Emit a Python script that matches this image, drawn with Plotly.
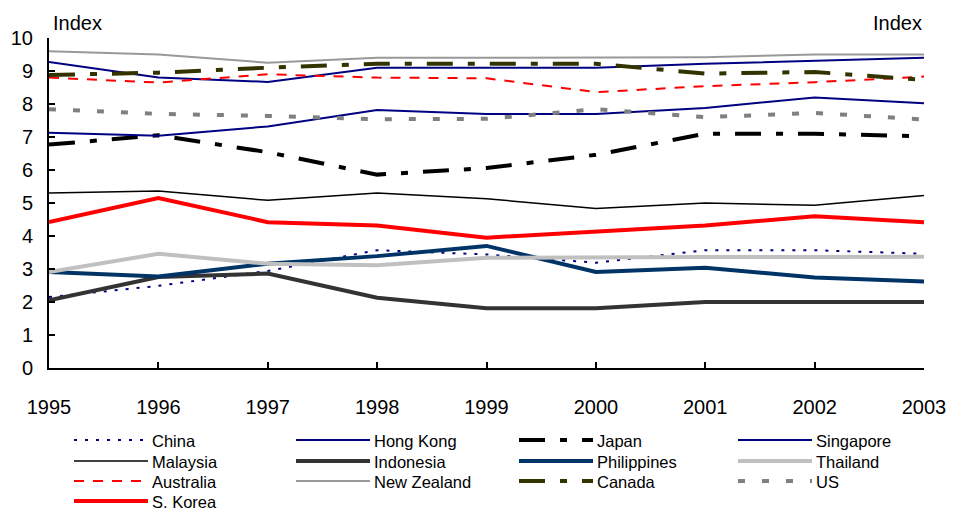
import plotly.graph_objects as go

# Survey index by economy, 1995-2003
years = [1995, 1996, 1997, 1998, 1999, 2000, 2001, 2002, 2003]

china = [2.15, 2.49, 2.94, 3.57, 3.44, 3.19, 3.57, 3.57, 3.46]
hong_kong = [9.27, 8.80, 8.67, 9.10, 9.10, 9.10, 9.22, 9.30, 9.40]
japan = [6.77, 7.05, 6.54, 5.86, 6.06, 6.46, 7.10, 7.10, 7.02]
singapore = [7.13, 7.04, 7.32, 7.82, 7.70, 7.70, 7.88, 8.20, 8.02]
malaysia = [5.30, 5.36, 5.08, 5.30, 5.13, 4.83, 5.00, 4.93, 5.23]
indonesia = [2.05, 2.76, 2.86, 2.13, 1.81, 1.81, 2.00, 2.00, 2.00]
philippines = [2.91, 2.77, 3.16, 3.39, 3.70, 2.91, 3.04, 2.74, 2.62]
thailand = [2.91, 3.46, 3.16, 3.11, 3.34, 3.36, 3.36, 3.36, 3.37]
australia = [8.80, 8.65, 8.90, 8.80, 8.78, 8.36, 8.54, 8.66, 8.83]
new_zealand = [9.60, 9.50, 9.25, 9.40, 9.40, 9.40, 9.42, 9.50, 9.50]
canada = [8.88, 8.95, 9.10, 9.22, 9.22, 9.22, 8.92, 8.97, 8.73]
us = [7.84, 7.70, 7.64, 7.54, 7.55, 7.84, 7.60, 7.73, 7.53]
s_korea = [4.42, 5.15, 4.42, 4.32, 3.95, 4.15, 4.32, 4.60, 4.42]

y_ticks = [0, 1, 2, 3, 4, 5, 6, 7, 8, 9, 10]
x_ticks = years

# (name, values, colour, width, dash)
series = [
    ("China", china, "#000080", 2, "3px,8px"),
    ("Hong Kong", hong_kong, "#000080", 2, "solid"),
    ("Japan", japan, "#000000", 4, "26px,15px,7px,15px"),
    ("Singapore", singapore, "#000080", 2, "solid"),
    ("Malaysia", malaysia, "#000000", 1.5, "solid"),
    ("Indonesia", indonesia, "#333333", 4, "solid"),
    ("Philippines", philippines, "#003366", 4, "solid"),
    ("Thailand", thailand, "#C0C0C0", 4, "solid"),
    ("Australia", australia, "#FF0000", 2, "10px,9px"),
    ("New Zealand", new_zealand, "#999999", 2, "solid"),
    ("Canada", canada, "#333300", 4, "26px,15px,7px,15px"),
    ("US", us, "#808080", 4, "7px,17px"),
    ("S. Korea", s_korea, "#FF0000", 4, "solid"),
]

FONT = "Arial, Liberation Sans, sans-serif"
W, H = 967, 512
ML, MR, MT, MB = 49, 43, 38, 144
PW, PH = W - ML - MR, H - MT - MB


def px_x(px):
    return (px - ML) / PW


def px_y(py):
    return (H - MB - py) / PH


fig = go.Figure()
for name, vals, color, width, dash in series:
    fig.add_trace(go.Scatter(
        x=years, y=vals, name=name, mode="lines",
        line=dict(color=color, width=width, dash=dash),
        showlegend=False, hoverinfo="x+y+name",
    ))

# Hand-laid legend: four columns, rows filled left to right
col_x = [74, 296, 519, 738]
row_y = [440, 461, 481, 501]
line_len = 74
shapes = []
annotations = []
for i, (name, vals, color, width, dash) in enumerate(series):
    cx = col_x[i % 4]
    ry = row_y[i // 4]
    shapes.append(dict(
        type="line", xref="paper", yref="paper",
        x0=px_x(cx), x1=px_x(cx + line_len), y0=px_y(ry), y1=px_y(ry),
        line=dict(color=color, width=width, dash=dash),
    ))
    annotations.append(dict(
        text=name, xref="paper", yref="paper",
        x=px_x(cx + line_len + 3), y=px_y(ry + 1),
        xanchor="left", yanchor="middle", showarrow=False, borderpad=0,
        font=dict(family=FONT, size=16.5, color="#000000"),
    ))

annotations.append(dict(
    text="Index", xref="paper", yref="paper", x=px_x(51), y=px_y(23),
    xanchor="left", yanchor="middle", showarrow=False,
    font=dict(family=FONT, size=20, color="#000000"),
))
annotations.append(dict(
    text="Index", xref="paper", yref="paper", x=px_x(924), y=px_y(23),
    xanchor="right", yanchor="middle", showarrow=False,
    font=dict(family=FONT, size=20, color="#000000"),
))

axis_font = dict(family=FONT, size=20, color="#000000")

fig.update_layout(
    width=W, height=H,
    margin=dict(l=ML, r=MR, t=MT, b=MB, pad=0),
    paper_bgcolor="white", plot_bgcolor="white",
    showlegend=False,
    shapes=shapes,
    annotations=annotations,
    xaxis=dict(
        range=[1995, 2003], tickvals=x_ticks, ticktext=[str(y) for y in x_ticks],
        ticks="inside", ticklen=6, tickwidth=2, tickcolor="#000000",
        showline=True, linecolor="#000000", linewidth=2,
        showgrid=False, zeroline=False, tickfont=axis_font,
        ticklabelstandoff=20,
    ),
    yaxis=dict(
        range=[0, 10], tickvals=y_ticks,
        ticks="inside", ticklen=6, tickwidth=2, tickcolor="#000000",
        showline=True, linecolor="#000000", linewidth=2,
        showgrid=False, zeroline=False, tickfont=axis_font,
        ticklabelstandoff=10,
    ),
    yaxis2=dict(
        range=[0, 10], tickvals=y_ticks, overlaying="y", side="right",
        anchor="x",
        ticks="inside", ticklen=6, tickwidth=2, tickcolor="#000000",
        showline=True, linecolor="#000000", linewidth=2,
        showgrid=False, zeroline=False, tickfont=axis_font,
        ticklabelstandoff=12,
    ),
)

fig.write_html("out.html")
